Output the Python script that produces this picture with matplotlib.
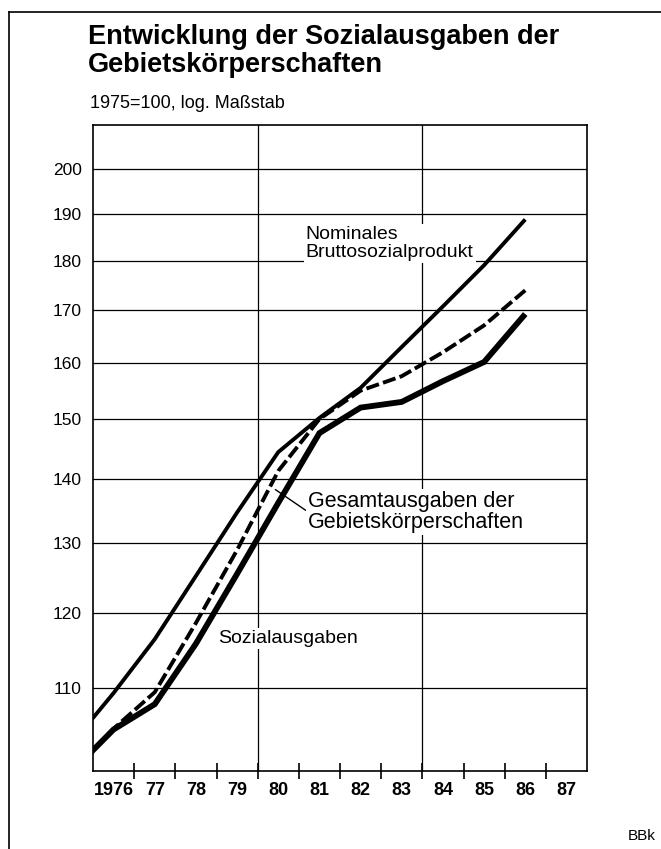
#!/usr/bin/env python3
'''
Entwicklung der Sozialausgaben der Gebietskoerperschaften (log. Massstab)
'''
import matplotlib
matplotlib.use('Agg')
import matplotlib.pyplot as plt
from matplotlib.lines import Line2D
from matplotlib.ticker import FixedLocator, NullFormatter, NullLocator

plt.rcParams['font.family'] = ['Liberation Sans', 'DejaVu Sans']

# 1975 = 100, index values
years = [1975, 1976, 1977, 1978, 1979, 1980, 1981, 1982, 1983, 1984, 1985, 1986]
brutto = [103.3, 109.4, 116.4, 125.2, 134.7, 144.4, 150.2, 155.5, 163.0, 170.8, 179.1, 188.8]
gesamt = [100.0, 105.0, 109.5, 118.6, 129.0, 141.3, 150.0, 155.0, 157.6, 162.0, 167.1, 174.0]
sozial = [100.0, 104.9, 108.0, 115.8, 125.5, 136.2, 147.6, 152.0, 153.0, 156.7, 160.2, 169.3]

y_ticks = [110, 120, 130, 140, 150, 160, 170, 180, 190, 200]
x_labels = ['1976', '77', '78', '79', '80', '81', '82', '83', '84', '85', '86', '87']
label_years = list(range(1976, 1988))
grid_years = [1979.5, 1983.5]

fig = plt.figure(figsize=(6.61, 8.49), dpi=100)
ax = fig.add_axes([93 / 661, 78 / 849, 494 / 661, 646 / 849])

ax.set_yscale('log')
ax.set_ylim(100, 210.5)
ax.set_xlim(1975.5, 1987.5)

# grid
for v in y_ticks:
    ax.axhline(v, color='black', lw=0.9, zorder=1)
for g in grid_years:
    ax.axvline(g, color='black', lw=0.9, zorder=1)

ax.plot(years, sozial, color='black', lw=4.2, solid_capstyle='butt',
        solid_joinstyle='miter', zorder=3)
ax.plot(years, brutto, color='black', lw=2.8, solid_capstyle='butt', zorder=3)
ax.plot(years, gesamt, color='black', lw=2.8, linestyle=(0, (3.4, 1.1)),
        dash_capstyle='butt', zorder=4)

# y axis
ax.yaxis.set_major_locator(FixedLocator(y_ticks))
ax.yaxis.set_minor_locator(NullLocator())
ax.set_yticklabels([str(v) for v in y_ticks])
ax.tick_params(axis='y', which='major', length=0, pad=8, labelsize=12.5)

# x axis: ticks between years, labels centred on years
ax.xaxis.set_major_locator(FixedLocator([y + 0.5 for y in label_years[:-1]]))
ax.xaxis.set_major_formatter(NullFormatter())
ax.xaxis.set_minor_locator(FixedLocator(label_years))
ax.set_xticklabels(x_labels, minor=True, fontweight='bold')
ax.tick_params(axis='x', which='major', direction='inout', length=11,
               width=1.2)
ax.tick_params(axis='x', which='minor', length=0, pad=8, labelsize=13)

for s in ax.spines.values():
    s.set_linewidth(1.2)

box = dict(facecolor='white', edgecolor='none', pad=1.5)
ax.text(1980.67, 183.6, 'Nominales\nBruttosozialprodukt', fontsize=14,
        ha='left', va='center', linespacing=1.05, bbox=box, zorder=5)
ax.annotate('Gesamtausgaben der\nGebietskörperschaften',
            xy=(1979.93, 138.3), xytext=(1980.72, 134.8),
            fontsize=15.5, ha='left', va='center', linespacing=0.98,
            bbox=box, zorder=5,
            arrowprops=dict(arrowstyle='-', lw=1.0, color='black',
                            shrinkA=0, shrinkB=0, relpos=(0, 0.5)))
ax.text(1978.54, 116.5, 'Sozialausgaben', fontsize=14, ha='left',
        va='center', bbox=box, zorder=5)

fig.text(88 / 661, 1 - 24 / 849,
         'Entwicklung der Sozialausgaben der\nGebietskörperschaften',
         fontsize=19.5, fontweight='bold', ha='left', va='top',
         linespacing=1.08)
fig.text(90 / 661, 1 - 104 / 849, '1975=100, log. Maßstab', fontsize=13,
         ha='left', va='center')
fig.text(628 / 661, 1 - 836 / 849, 'BBk', fontsize=11, ha='left',
         va='center')

# outer frame (left and top)
fig.add_artist(Line2D([9 / 661, 9 / 661], [0, 1 - 12 / 849], color='black',
                      lw=1.2))
fig.add_artist(Line2D([9 / 661, 1], [1 - 12 / 849, 1 - 12 / 849],
                      color='black', lw=1.2))

fig.savefig('out.png', dpi=100)
